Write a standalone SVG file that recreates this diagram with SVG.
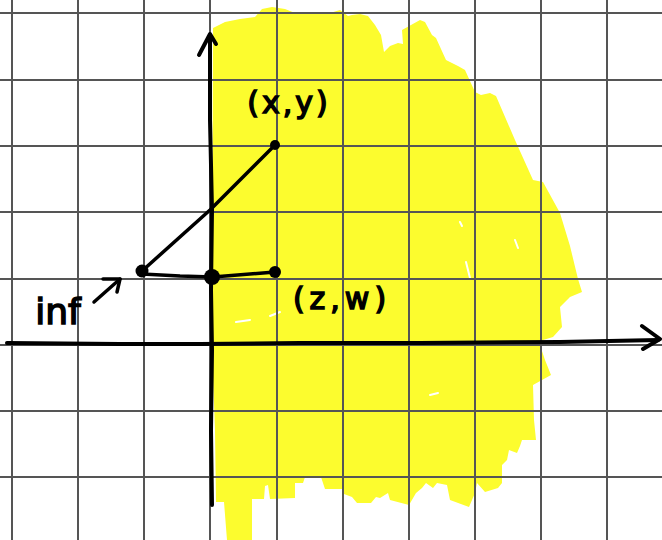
<svg xmlns="http://www.w3.org/2000/svg" width="662" height="540" viewBox="0 0 662 540">
<style>
.grid{stroke:#555;stroke-width:2;fill:none}
.ink{stroke:#000;fill:none;stroke-linecap:round;stroke-linejoin:round}
.dot{fill:#000}
.hand{font-family:"DejaVu Sans",sans-serif;fill:#000;stroke:#000;stroke-width:1.5}
</style>
<rect width="662" height="540" fill="#fff"/>
<g id="region">
<path fill="#fcfc2e" d="M213,28 L225,22 L240,19 L255,17 L262,9 L272,7 L285,9 L295,13 L318,14 L330,13 L340,10 L348,16 L352,15 L360,14 L368,16 L375,25 L381,35 L384,52 L390,46 L398,43 L403,44 L402,30 L420,20 L425,22 L432,35 L436,38 L446,60 L458,66 L465,70 L475,92 L481,95 L490,93 L496,96 L515,140 L533,180 L543,182 L560,213 L570,246 L578,279 L582,292 L570,297 L560,307 L562,327 L553,337 L543,340 L540,345 L545,360 L551,375 L533,385 L534,420 L536,440 L522,440 L520,446 L517,453 L509,450 L507,460 L502,465 L502,483 L498,488 L485,492 L477,483 L475,493 L469,507 L450,500 L447,485 L437,483 L433,488 L426,483 L422,488 L416,493 L409,505 L390,500 L388,493 L380,498 L376,497 L371,503 L357,503 L352,497 L344,494 L342,489 L325,489 L321,477 L305,477 L303,483 L295,483 L295,498 L270,499 L268,485 L265,486 L264,499 L252,499 L252,540 L227,540 L224,502 L216,502 L215,430 L212,350 Z"/>
<g stroke="#fff" stroke-width="2" stroke-linecap="round">
<path d="M466,262 L470,278"/><path d="M515,240 L518,248"/><path d="M430,395 L438,393"/><path d="M460,222 L462,226"/><path d="M236,322 L250,320"/><path d="M270,316 L280,312"/>
</g>
</g>
<g id="grid" class="grid">
<path d="M12,0V540 M78,0V540 M144,0V540 M210,0V540 M277,0V540 M343,0V540 M409,0V540 M475,0V540 M541,0V540 M607,0V540"/>
<path d="M0,13H662 M0,80H662 M0,146H662 M0,212H662 M0,279H662 M0,345H662 M0,411H662 M0,477H662"/>
</g>
<g id="connectors" class="ink">
<path stroke-width="4" d="M212,505 L211,430 L212,350 L211,290 L212,210 L210,120 L210,36"/>
<path stroke-width="4" d="M199,55 L210,34 L216,44"/>
<path stroke-width="4" d="M7,343 L120,344 L200,344 L300,343 L420,343 L560,342 L658,340"/>
<path stroke-width="4" d="M642,326 L660,339 L643,349"/>
<path stroke-width="3.5" d="M142,271 L210,210 L275,145"/>
<path stroke-width="3.5" d="M142,274 L180,276 L213,277 L275,272"/>
<path stroke-width="3.5" d="M94,302 L120,279"/>
<path stroke-width="3.5" d="M103,279 L120,279 L117,292"/>
</g>
<g id="point-xy"><circle class="dot" cx="275" cy="145" r="5"/></g>
<g id="point-inf"><circle class="dot" cx="142" cy="271" r="6.5"/></g>
<g id="origin"><circle class="dot" cx="212" cy="277" r="8"/></g>
<g id="point-zw"><circle class="dot" cx="275" cy="272" r="6"/></g>
<g id="labels" class="hand">
<text x="289" y="113" font-size="30" text-anchor="middle" letter-spacing="3">(x,y)</text>
<text x="342" y="309" font-size="30" text-anchor="middle" letter-spacing="5">(z,w)</text>
<text x="58" y="324" font-size="36" text-anchor="middle">inf</text>
</g>
</svg>
